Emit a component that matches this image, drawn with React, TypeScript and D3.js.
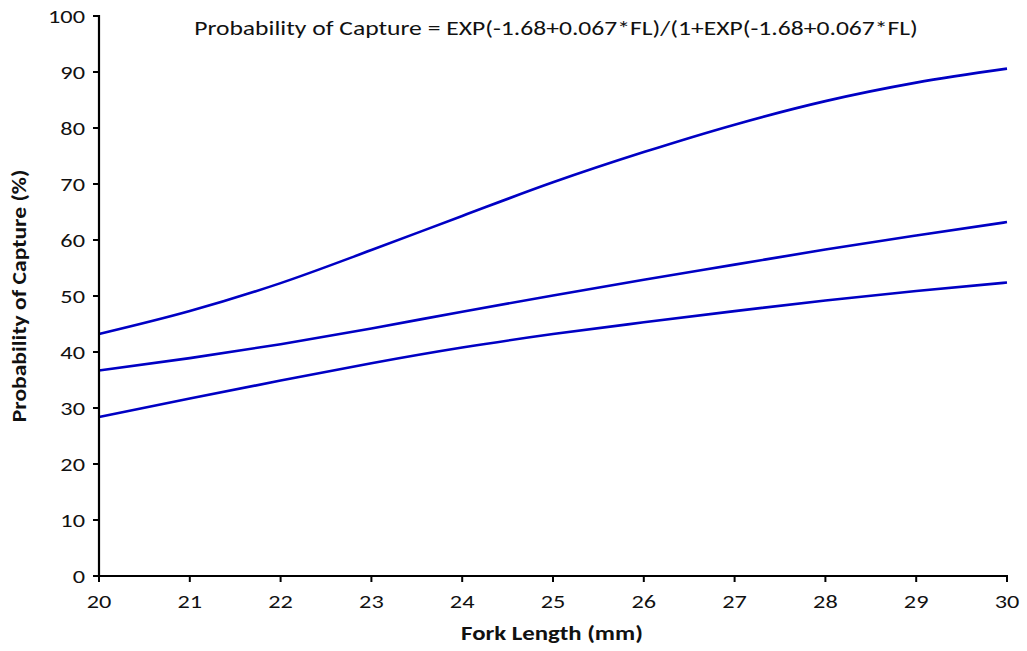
import React from 'react'
import { scaleLinear, line, curveMonotoneX, range } from 'd3'

const forkLength = [20, 21, 22, 23, 24, 25, 26, 27, 28, 29, 30]
const upperCurve = [43.2, 47.3, 52.3, 58.2, 64.3, 70.3, 75.7, 80.6, 84.8, 88.1, 90.6]
const middleCurve = [36.7, 38.9, 41.4, 44.2, 47.2, 50.1, 52.9, 55.6, 58.3, 60.8, 63.2]
const lowerCurve = [28.4, 31.7, 34.9, 38.0, 40.8, 43.2, 45.3, 47.3, 49.2, 50.9, 52.4]
const yTicks = range(0, 101, 10)

const title = 'Probability of Capture = EXP(-1.68+0.067*FL)/(1+EXP(-1.68+0.067*FL)'

const font = 'Carlito, Lato, sans-serif'

// reference text is a bit wider than Lato, so stretch it horizontally
const Label = ({ x, y, sx = 1.28, anchor = 'middle', size = 19, bold = false, rotate = 0, dy, children }: any) => (
  <g transform={`translate(${x},${y}) rotate(${rotate}) scale(${sx},1)`}>
    <text fontSize={size} fontWeight={bold ? 'bold' : 'normal'} textAnchor={anchor} dy={dy} fill="#111">
      {children}
    </text>
  </g>
)

const App = () => {
  const width = 1027
  const height = 651
  const x = scaleLinear().domain([20, 30]).range([99, 1007])
  const y = scaleLinear().domain([0, 100]).range([576, 16])

  const pathOf = (vals: number[]) =>
    line<number>()
      .x((_, i) => x(forkLength[i]))
      .y(d => y(d))
      .curve(curveMonotoneX)(vals)

  const series = [upperCurve, middleCurve, lowerCurve]

  return (
    <svg
      width={width}
      height={height}
      style={{ position: 'absolute', left: 0, top: 0, background: '#fff' }}
      fontFamily={font}
    >
      <Label x={556} y={35} size={21} sx={1.22}>
        {title}
      </Label>

      {series.map((s, i) => (
        <path key={i} d={pathOf(s) || ''} fill="none" stroke="#0000c4" strokeWidth={2.6} />
      ))}

      {/* y axis */}
      <line x1={x(20)} x2={x(20)} y1={y(0) + 1} y2={y(100) - 1} stroke="#000" strokeWidth={2.2} />
      {yTicks.map(t => (
        <g key={t}>
          <line x1={x(20) - 6} x2={x(20)} y1={y(t)} y2={y(t)} stroke="#000" strokeWidth={2} />
          <Label x={x(20) - 14} y={y(t)} dy="0.36em" anchor="end">
            {t}
          </Label>
        </g>
      ))}

      {/* x axis */}
      <line x1={x(20) - 1} x2={x(30) + 1} y1={y(0)} y2={y(0)} stroke="#000" strokeWidth={2.2} />
      {forkLength.map(t => (
        <g key={t}>
          <line x1={x(t)} x2={x(t)} y1={y(0)} y2={y(0) + 6} stroke="#000" strokeWidth={2} />
          <Label x={x(t)} y={608}>
            {t}
          </Label>
        </g>
      ))}

      <Label x={552} y={640} size={20} sx={1.24} bold>
        Fork Length (mm)
      </Label>
      <Label x={26} y={(y(0) + y(100)) / 2} size={20} sx={1.18} rotate={-90} bold>
        Probability of Capture (%)
      </Label>
    </svg>
  )
}

export default App
